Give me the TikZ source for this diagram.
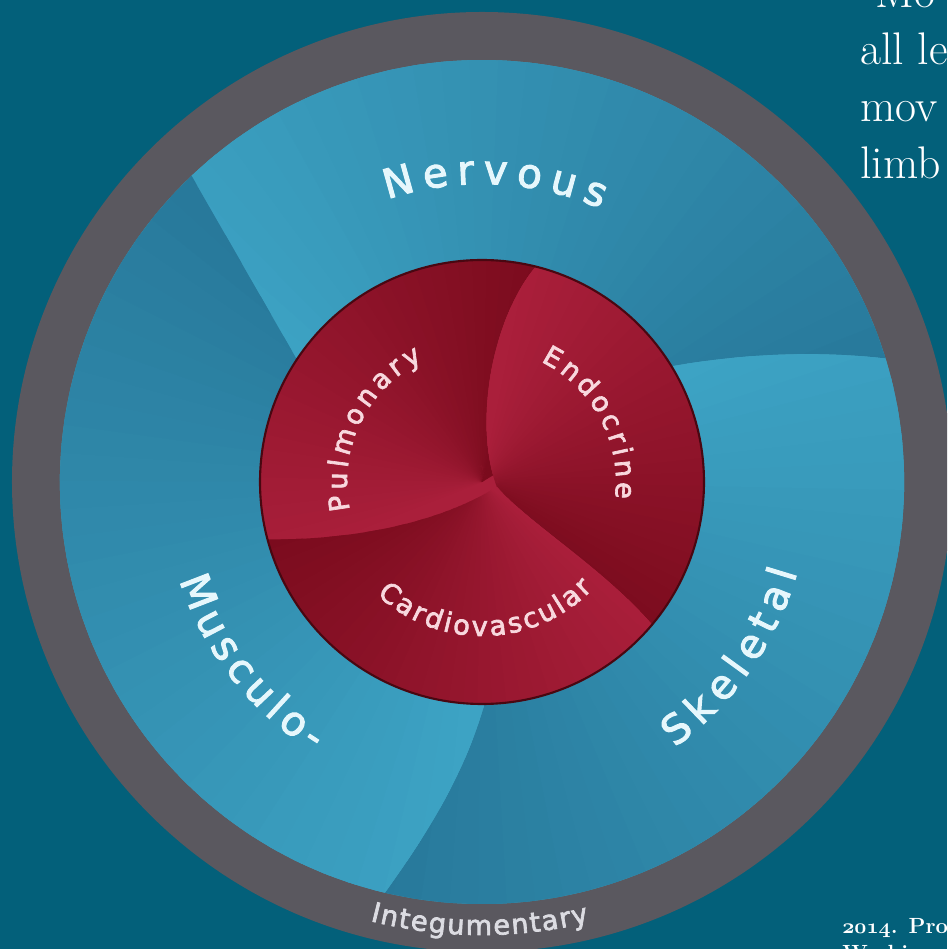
\documentclass[tikz,border=0pt]{standalone}
\usepackage{fontspec}
\usetikzlibrary{decorations.text}
\newfontfamily\ringfont{DejaVu Sans}[FakeBold=2.5]

\definecolor{sea}{HTML}{03607A}
\definecolor{rimgray}{HTML}{5A585F}
\definecolor{bluelight}{HTML}{3DA3C4}
\definecolor{bluedark}{HTML}{27789A}
\definecolor{redlight}{HTML}{AA1F3B}
\definecolor{reddark}{HTML}{7A0B1D}
\definecolor{labelblue}{HTML}{E6F7FC}
\definecolor{labelpink}{HTML}{F8D8DE}
\definecolor{labelgray}{HTML}{DCDCE2}

\tikzset{
  ringlabel/.style={decorate, decoration={text along path, text align={fit to path=true},
      text color=labelblue, text={|\ringfont\fontsize{23pt}{27pt}\selectfont|#1}}},
  corelabel/.style={decorate, decoration={text along path, text align={fit to path=true},
      text color=labelpink, text={|\ringfont\fontsize{15.5pt}{18pt}\selectfont|#1}}},
  rimlabel/.style={decorate, decoration={text along path, text align={fit to path=true},
      text color=labelgray, text={|\ringfont\fontsize{15.5pt}{18pt}\selectfont|#1}}},
  quote/.style={text=white, inner sep=0pt, font=\fontsize{26pt}{32pt}\selectfont},
  source/.style={text=white, inner sep=0pt, font=\bfseries\fontsize{12.5pt}{15pt}\selectfont},
}

% #1 clip path, #2 start angle (light), #3 end angle (dark), #4 light, #5 dark
\newcommand{\petalfill}[5]{%
  \begin{scope}
    \clip #1;
    \fill[#4] (-600,-600) rectangle (600,600);
    \foreach \k in {-10,...,45} {
      \pgfmathsetmacro\angA{#2+(#3-#2)*\k/36}
      \pgfmathsetmacro\angB{#2+(#3-#2)*(\k+1.4)/36}
      \pgfmathsetmacro\mix{max(0,min(100,100*\k/35))}
      \fill[#5!\mix!#4] (0,0) -- (\angA:600) -- (\angB:600) -- cycle;
    }
  \end{scope}
}

\begin{document}
\begin{tikzpicture}[x=0.02cm, y=0.02cm]

\useasboundingbox (-482,-467) rectangle (465,482);
\clip (-482,-467) rectangle (465,482);
\fill[sea] (-482,-467) rectangle (465,482);

% Outer grey ring
\fill[rimgray] (0,0) circle[radius=470];

% Blue ring: three swirling petals
\petalfill{(0,0) -- (-170,96) -- (133.5:422) arc[start angle=133.5, end angle=17, radius=422]
    .. controls (330,132) and (250,128) .. (170,112) -- cycle}{150}{10}{bluelight}{bluedark}
\petalfill{(0,0) -- (170,112) .. controls (250,128) and (330,132) .. (17:422)
    arc[start angle=17, end angle=-103.3, radius=422]
    .. controls (-50,-345) and (-10,-280) .. (8,-200) -- cycle}{30}{-110}{bluelight}{bluedark}
\petalfill{(0,0) -- (8,-200) .. controls (-10,-280) and (-50,-345) .. (-103.3:422)
    arc[start angle=-103.3, end angle=-226.5, radius=422] -- (-170,96) -- cycle}{-92}{-230}{bluelight}{bluedark}

% Red core: three petals
\fill[redlight] (0,0) circle[radius=222];
\petalfill{(15,-5) .. controls (-50,-45) and (-140,-58) .. (195:222)
    arc[start angle=195, end angle=76, radius=222]
    .. controls (8,160) and (-8,55) .. (15,-5) -- cycle}{205}{70}{redlight}{reddark}
\petalfill{(-40:222) .. controls (120,-85) and (45,-40) .. (15,-5)
    .. controls (-8,55) and (8,160) .. (76:222)
    arc[start angle=76, end angle=-40, radius=222] -- cycle}{82}{-48}{redlight}{reddark}
\petalfill{(195:222) .. controls (-140,-58) and (-50,-45) .. (15,-5)
    .. controls (45,-40) and (120,-85) .. (-40:222)
    arc[start angle=-40, end angle=-165, radius=222] -- cycle}{-35}{-170}{redlight}{reddark}
\draw[reddark!60!black, line width=1.2pt] (0,0) circle[radius=222];

% Ring labels
\path[ringlabel={Nervous}] (108.5:298) arc[start angle=108.5, end angle=66.5, radius=298];
\path[ringlabel={Musculo-}] (198:318) arc[start angle=198, end angle=238, radius=318];
\path[ringlabel={Skeletal}] (-54:328) arc[start angle=-54, end angle=-16, radius=328];
\path[rimlabel={Integumentary}] (255.7:453) arc[start angle=255.7, end angle=283.7, radius=453];

% Core labels
\path[corelabel={Pulmonary}] (192:135) arc[start angle=192, end angle=116, radius=135];
\path[corelabel={Endocrine}] (64:134) arc[start angle=64, end angle=-7, radius=134];
\path[corelabel={Cardiovascular}] (227:154) arc[start angle=227, end angle=316, radius=154];

% Side text
\node[quote, anchor=base west] (lineA) at (393,474) {Mo};
\node[quote, anchor=base west] (lineB) at (378,417) {all le};
\node[quote, anchor=base west] (lineC) at (378,360) {mov};
\node[quote, anchor=base west] (lineD) at (378,303) {limb};
\node[source, anchor=base west] (year) at (360,-451)
  {{\fontencoding{OML}\fontfamily{cmm}\fontseries{b}\fontshape{it}\selectfont 2014}. Pro};
\node[source, anchor=base west] (place) at (360,-478) {Washi};

\end{tikzpicture}
\end{document}
